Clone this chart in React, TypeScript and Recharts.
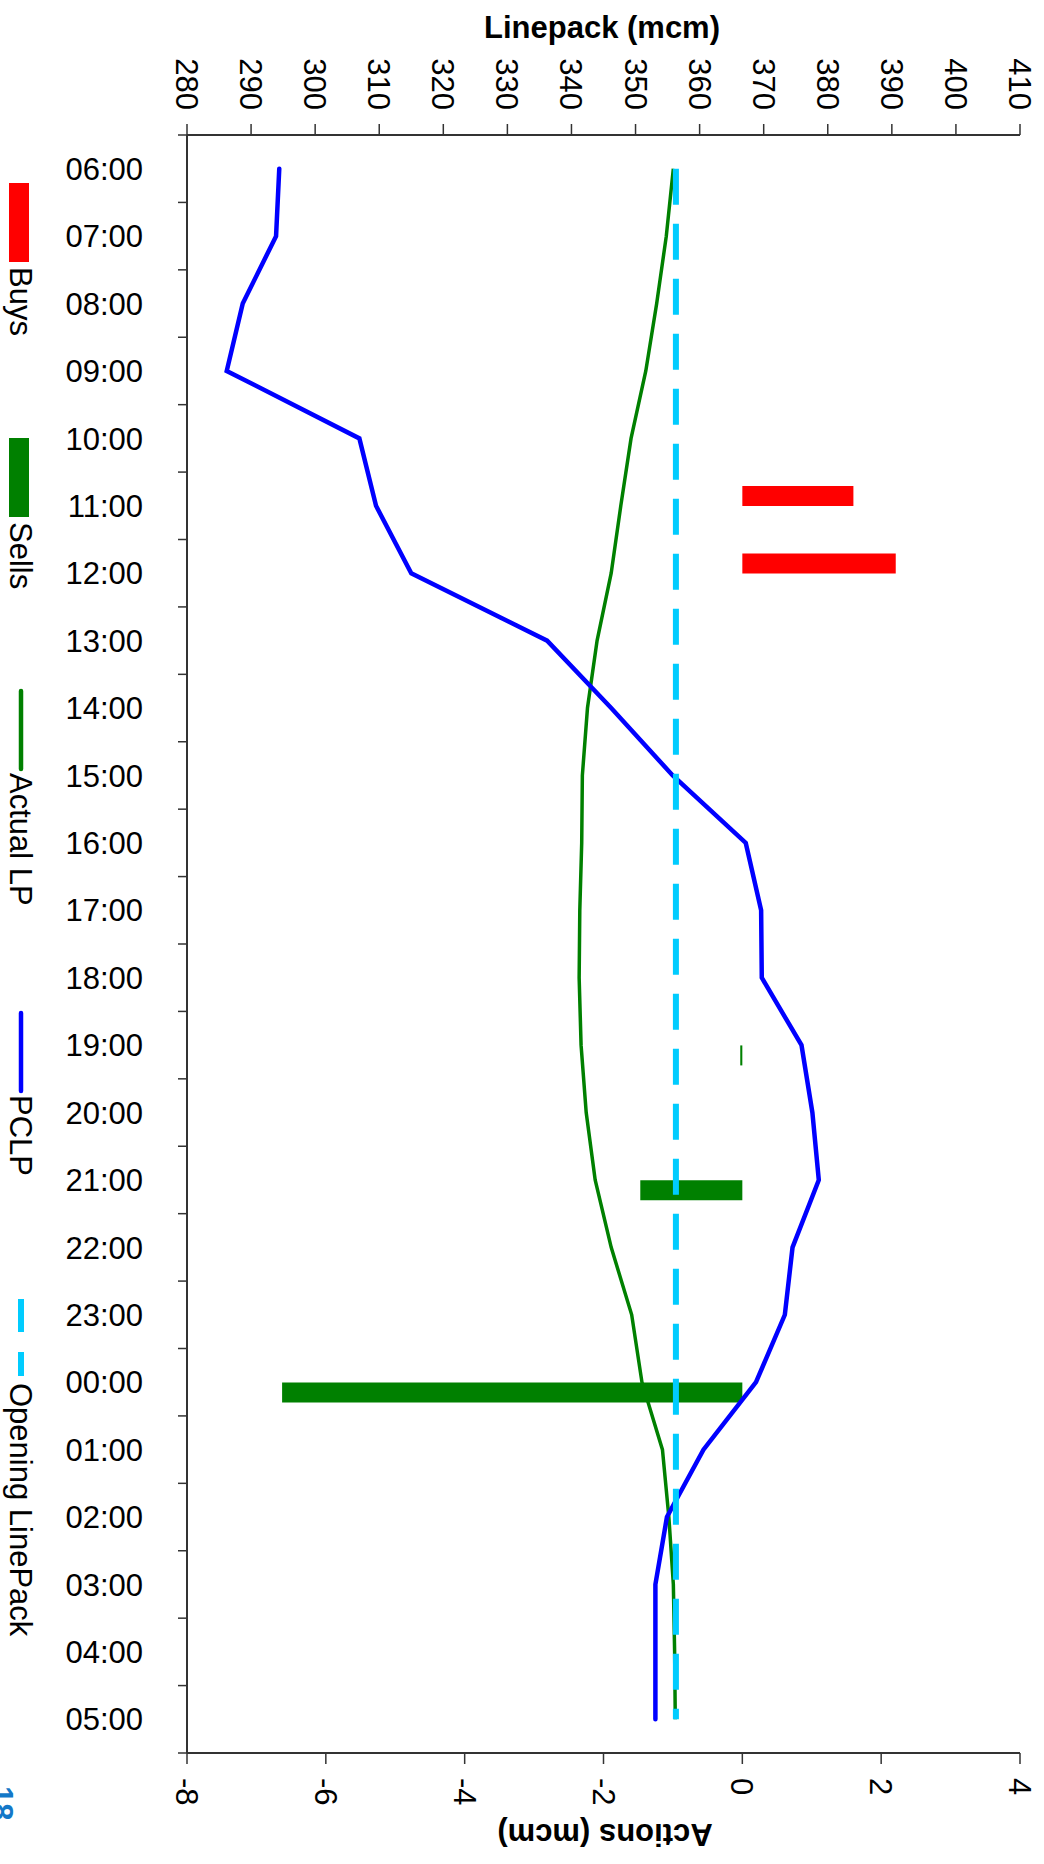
import React from "react";
import { ComposedChart, Line, Bar, XAxis, YAxis } from "recharts";

const times = [
  "06:00", "07:00", "08:00", "09:00", "10:00", "11:00", "12:00", "13:00",
  "14:00", "15:00", "16:00", "17:00", "18:00", "19:00", "20:00", "21:00",
  "22:00", "23:00", "00:00", "01:00", "02:00", "03:00", "04:00", "05:00",
];
const pclp = [
  294.4, 293.9, 288.7, 286.2, 306.9, 309.5, 315.0, 336.2,
  346.2, 355.8, 367.2, 369.6, 369.7, 375.9, 377.6, 378.6,
  374.5, 373.3, 368.8, 360.6, 354.9, 353.1, 353.1, 353.1,
];
const actualLp = [
  355.9, 354.8, 353.3, 351.6, 349.3, 347.7, 346.2, 344.0,
  342.5, 341.7, 341.6, 341.3, 341.2, 341.5, 342.3, 343.7,
  346.2, 349.4, 351.0, 354.2, 355.2, 355.9, 356.1, 356.2,
];
const openingLp = [
  356.3, 356.3, 356.3, 356.3, 356.3, 356.3, 356.3, 356.3,
  356.3, 356.3, 356.3, 356.3, 356.3, 356.3, 356.3, 356.3,
  356.3, 356.3, 356.3, 356.3, 356.3, 356.3, 356.3, 356.3,
];
const buys = [
  null, null, null, null, null, 1.6, 2.21, null,
  null, null, null, null, null, null, null, null,
  null, null, null, null, null, null, null, null,
];
const sells = [
  null, null, null, null, null, null, null, null,
  null, null, null, null, null, -0.03, null, -1.47,
  null, null, -6.63, null, null, null, null, null,
];
const lpTicks = [280, 290, 300, 310, 320, 330, 340, 350, 360, 370, 380, 390, 400, 410];
const actionTicks = [-8, -6, -4, -2, 0, 2, 4];

const data = times.map((t, i) => ({
  time: t,
  pclp: pclp[i],
  actual: actualLp[i],
  opening: openingLp[i],
  buys: buys[i],
  sells: sells[i],
}));

// chart is drawn landscape, then the whole thing is turned 90deg clockwise
const W = 1864;
const H = 1044;
const LEFT_W = 135;
const RIGHT_W = 111;
const BAND = (W - LEFT_W - RIGHT_W) / times.length;
const FONT = '"Liberation Sans", Arial, Helvetica, sans-serif';

const legendItems = [
  { label: "Buys", kind: "rect", color: "#ff0000" },
  { label: "Sells", kind: "rect", color: "#008000" },
  { label: "Actual LP", kind: "line", color: "#008000" },
  { label: "PCLP", kind: "line", color: "#0000ff" },
  { label: "Opening LinePack", kind: "dash", color: "#00ccff" },
];
const legendX = [183, 438, 689, 1011, 1299];

function TimeTick(props: any) {
  const { x, y, payload, index } = props;
  const axisY = y - 44;
  const half = BAND / 2;
  return (
    <g>
      <line x1={x - half} x2={x - half} y1={axisY} y2={axisY + 9} stroke="#333" strokeWidth={1.5} />
      {index === times.length - 1 && (
        <line x1={x + half} x2={x + half} y1={axisY} y2={axisY + 9} stroke="#333" strokeWidth={1.5} />
      )}
      <text
        x={x}
        y={y}
        transform={`rotate(-90 ${x} ${y})`}
        textAnchor="end"
        dy="0.36em"
        fontSize={31}
        fill="#000"
      >
        {payload.value}
      </text>
    </g>
  );
}

function Overlay() {
  return (
    <svg
      width={W}
      height={H}
      style={{ position: "absolute", left: 0, top: 0, pointerEvents: "none", overflow: "hidden" }}
      fontFamily={FONT}
    >
      <text transform="translate(38 442) rotate(-90)" textAnchor="middle" fontSize={31} fontWeight="bold" fill="#000">
        Linepack (mcm)
      </text>
      <text transform="translate(1824 439) rotate(90)" textAnchor="middle" fontSize={31} fontWeight="bold" fill="#000">
        Actions (mcm)
      </text>
      {legendItems.map((it, i) => {
        const x = legendX[i];
        return (
          <g key={it.label}>
            {it.kind === "rect" && <rect x={x} y={1015} width={79} height={20} fill={it.color} />}
            {it.kind === "line" && (
              <line x1={x + 2} x2={x + 80} y1={1023} y2={1023} stroke={it.color} strokeWidth={4.5} strokeLinecap="round" />
            )}
            {it.kind === "dash" && (
              <line x1={x} x2={x + 77} y1={1023} y2={1023} stroke={it.color} strokeWidth={6} strokeDasharray="33 20" />
            )}
            <text x={x + 84} y={1034} fontSize={31} fill="#000">
              {it.label}
            </text>
          </g>
        );
      })}
      <text x={1786} y={1053} fontSize={31} fontWeight="bold" fill="#1478c8">
        18
      </text>
    </svg>
  );
}

export default function App() {
  return (
    <div
      style={{
        position: "absolute",
        left: 0,
        top: 0,
        width: H,
        height: W,
        overflow: "hidden",
        background: "#fff",
      }}
    >
      <div
        style={{
          position: "absolute",
          left: 0,
          top: 0,
          width: W,
          height: H,
          transformOrigin: "0 0",
          transform: `translateX(${H}px) rotate(90deg)`,
          fontFamily: FONT,
        }}
      >
        <ComposedChart
          width={W}
          height={H}
          data={data}
          margin={{ top: 24, right: 0, bottom: 0, left: 0 }}
          barGap={0}
          barSize={20}
          style={{ fontFamily: FONT }}
        >
          <XAxis
            dataKey="time"
            height={H - 857}
            interval={0}
            tickLine={false}
            tickSize={9}
            tickMargin={35}
            axisLine={{ stroke: "#333", strokeWidth: 2 }}
            tick={<TimeTick />}
          />
          <XAxis
            xAxisId="top"
            dataKey="time"
            orientation="top"
            height={0}
            tick={false}
            tickLine={false}
            axisLine={{ stroke: "#888", strokeWidth: 2 }}
          />
          <YAxis
            yAxisId="lp"
            orientation="left"
            width={LEFT_W}
            type="number"
            domain={[280, 410]}
            ticks={lpTicks}
            interval={0}
            tickSize={11}
            tickMargin={14}
            tick={{ fill: "#000", fontSize: 31 }}
            tickLine={{ stroke: "#333", strokeWidth: 1.5 }}
            axisLine={{ stroke: "#333", strokeWidth: 2 }}
          />
          <YAxis
            yAxisId="act"
            orientation="right"
            width={RIGHT_W}
            type="number"
            domain={[-8, 4]}
            ticks={actionTicks}
            interval={0}
            tickSize={11}
            tickMargin={14}
            tick={{ fill: "#000", fontSize: 31 }}
            tickLine={{ stroke: "#333", strokeWidth: 1.5 }}
            axisLine={{ stroke: "#333", strokeWidth: 2 }}
          />
          <Bar yAxisId="act" dataKey="buys" fill="#ff0000" isAnimationActive={false} />
          <Bar yAxisId="act" dataKey="sells" fill="#008000" isAnimationActive={false} />
          <Line
            yAxisId="lp"
            dataKey="actual"
            stroke="#008000"
            strokeWidth={3.5}
            dot={false}
            activeDot={false}
            isAnimationActive={false}
          />
          <Line
            yAxisId="lp"
            dataKey="pclp"
            stroke="#0000ff"
            strokeWidth={4.5}
            strokeLinecap="round"
            dot={false}
            activeDot={false}
            isAnimationActive={false}
          />
          <Line
            yAxisId="lp"
            dataKey="opening"
            stroke="#00ccff"
            strokeWidth={6}
            strokeDasharray="36 19"
            dot={false}
            activeDot={false}
            isAnimationActive={false}
          />
        </ComposedChart>
        <Overlay />
      </div>
    </div>
  );
}
